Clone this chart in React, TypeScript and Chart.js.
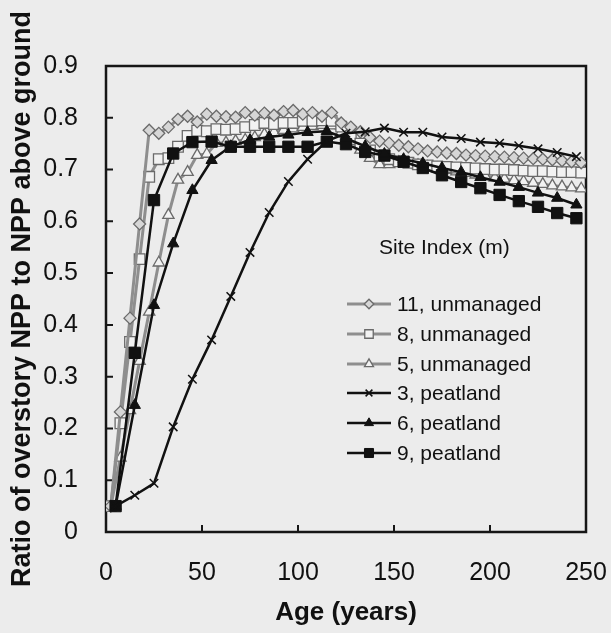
import React, { useEffect, useRef } from 'react';
import { Chart, registerables } from 'chart.js';
import { drawPoint } from 'chart.js/helpers';

Chart.register(...registerables);

// Ages (years) of the 5-year (unmanaged) and 10-year (peatland) series
const unmanagedAges = [
  2.5, 7.5, 12.5, 17.5, 22.5, 27.5, 32.5, 37.5, 42.5, 47.5,
  52.5, 57.5, 62.5, 67.5, 72.5, 77.5, 82.5, 87.5, 92.5, 97.5,
  102.5, 107.5, 112.5, 117.5, 122.5, 127.5, 132.5, 137.5, 142.5, 147.5,
  152.5, 157.5, 162.5, 167.5, 172.5, 177.5, 182.5, 187.5, 192.5, 197.5,
  202.5, 207.5, 212.5, 217.5, 222.5, 227.5, 232.5, 237.5, 242.5, 247.5,
];
const peatlandAges = [
  5, 15, 25, 35, 45, 55, 65, 75, 85, 95, 105, 115, 125,
  135, 145, 155, 165, 175, 185, 195, 205, 215, 225, 235, 245,
];

const si11Unmanaged = [
  0.05, 0.232, 0.413, 0.595, 0.776, 0.77, 0.782, 0.797, 0.803, 0.792,
  0.807, 0.803, 0.802, 0.801, 0.81, 0.805, 0.809, 0.805, 0.812, 0.814,
  0.807, 0.81, 0.803, 0.81, 0.79, 0.782, 0.773, 0.762, 0.755, 0.751,
  0.747, 0.744, 0.74, 0.736, 0.734, 0.732, 0.731, 0.728, 0.727, 0.726,
  0.725, 0.724, 0.723, 0.722, 0.721, 0.72, 0.719, 0.717, 0.715, 0.713,
];
const si8Unmanaged = [
  0.05, 0.21, 0.367, 0.527, 0.686, 0.72, 0.722, 0.744, 0.765, 0.775,
  0.774, 0.778, 0.777, 0.778, 0.782, 0.786, 0.79, 0.788, 0.79, 0.79,
  0.794, 0.794, 0.795, 0.794, 0.783, 0.765, 0.75, 0.737, 0.727, 0.72,
  0.716, 0.713, 0.71, 0.708, 0.706, 0.705, 0.704, 0.703, 0.702, 0.701,
  0.7, 0.7, 0.699, 0.698, 0.697, 0.697, 0.696, 0.695, 0.695, 0.694,
];
const si5Unmanaged = [
  0.05, 0.143, 0.235, 0.33, 0.425, 0.52, 0.612, 0.68, 0.695, 0.728,
  0.73, 0.751, 0.752, 0.755, 0.757, 0.762, 0.768, 0.772, 0.776, 0.779,
  0.782, 0.784, 0.786, 0.785, 0.772, 0.755, 0.738, 0.722, 0.71, 0.71,
  0.714, 0.712, 0.708, 0.705, 0.702, 0.699, 0.696, 0.693, 0.69, 0.687,
  0.684, 0.682, 0.679, 0.677, 0.674, 0.672, 0.669, 0.667, 0.665, 0.663,
];
const si3Peatland = [
  0.05, 0.071, 0.094, 0.203, 0.295, 0.371, 0.455, 0.54, 0.617, 0.677,
  0.72, 0.755, 0.77, 0.773, 0.78, 0.772, 0.772, 0.763, 0.76, 0.753,
  0.751, 0.746, 0.74, 0.733, 0.725,
];
const si6Peatland = [
  0.05, 0.245, 0.438, 0.557, 0.66, 0.718, 0.745, 0.757, 0.763, 0.767,
  0.772, 0.774, 0.76, 0.745, 0.73, 0.72, 0.712, 0.703, 0.695, 0.685,
  0.676, 0.666, 0.655, 0.645, 0.632,
];
const si9Peatland = [
  0.05, 0.346, 0.641, 0.731, 0.753, 0.754, 0.744, 0.744, 0.744, 0.744,
  0.744, 0.754, 0.749, 0.734, 0.727, 0.715, 0.703, 0.689, 0.676, 0.664,
  0.651, 0.639, 0.628, 0.616, 0.606,
];

const seriesLabels = [
  '11, unmanaged', '8, unmanaged', '5, unmanaged',
  '3, peatland', '6, peatland', '9, peatland',
];
const legendTitle = 'Site Index (m)';
const xTicks = [0, 50, 100, 150, 200, 250];
const yTicks = [0, 0.1, 0.2, 0.3, 0.4, 0.5, 0.6, 0.7, 0.8, 0.9];

const FONT = "'Liberation Sans', Arial, sans-serif";

function pts(xs: number[], ys: number[]) {
  return xs.map((x, i) => ({ x, y: ys[i] }));
}

const bgPlugin = {
  id: 'bgPlugin',
  beforeDraw(chart: any) {
    const { ctx, width, height } = chart;
    ctx.save();
    ctx.fillStyle = '#ececec';
    ctx.fillRect(0, 0, width, height);
    ctx.restore();
  },
  beforeDatasetsDraw(chart: any) {
    const { ctx, chartArea: a, scales } = chart;
    ctx.save();
    ctx.strokeStyle = '#161616';
    ctx.lineWidth = 2.5;
    ctx.strokeRect(a.left, a.top, a.right - a.left, a.bottom - a.top);
    ctx.lineWidth = 2;
    ctx.beginPath();
    xTicks.forEach((v) => {
      const px = scales.x.getPixelForValue(v);
      ctx.moveTo(px, a.bottom);
      ctx.lineTo(px, a.bottom - 7);
    });
    yTicks.forEach((v) => {
      const py = scales.y.getPixelForValue(v);
      ctx.moveTo(a.left, py);
      ctx.lineTo(a.left + 7, py);
    });
    ctx.stroke();
    ctx.restore();
  },
};

const legendPlugin = {
  id: 'insideLegend',
  afterDatasetsDraw(chart: any) {
    const { ctx } = chart;
    ctx.save();
    ctx.fillStyle = '#111';
    ctx.textBaseline = 'middle';
    ctx.textAlign = 'left';
    ctx.font = `21px ${FONT}`;
    ctx.fillText(legendTitle, 379, 248);
    const rows = [304, 334, 364, 393, 423, 453];
    chart.data.datasets.forEach((ds: any, i: number) => {
      const y = rows[i];
      ctx.strokeStyle = ds.borderColor;
      ctx.lineWidth = ds.borderWidth;
      ctx.beginPath();
      ctx.moveTo(347, y);
      ctx.lineTo(391, y);
      ctx.stroke();
      ctx.fillStyle = ds.pointBackgroundColor;
      ctx.strokeStyle = ds.pointBorderColor;
      ctx.lineWidth = ds.pointBorderWidth;
      drawPoint(ctx, { pointStyle: ds.pointStyle, rotation: 0, radius: ds.pointRadius * 0.8, borderWidth: ds.pointBorderWidth }, 369, y);
      ctx.fillStyle = '#111';
      ctx.font = `21px ${FONT}`;
      ctx.fillText(ds.label, 397, y + 1);
    });
    ctx.restore();
  },
};

export default function App() {
  const ref = useRef<HTMLCanvasElement | null>(null);
  useEffect(() => {
    if (!ref.current) return;
    const gray = '#8e8e8e';
    const grayMark = '#6a6a6a';
    const chart = new Chart(ref.current, {
      type: 'line',
      data: {
        datasets: [
          {
            label: seriesLabels[0], data: pts(unmanagedAges, si11Unmanaged),
            borderColor: gray, borderWidth: 3, pointStyle: 'rectRot', pointRadius: 6,
            pointBackgroundColor: '#d6d6d6', pointBorderColor: grayMark, pointBorderWidth: 1.3, order: 2,
          },
          {
            label: seriesLabels[1], data: pts(unmanagedAges, si8Unmanaged),
            borderColor: gray, borderWidth: 3, pointStyle: 'rect', pointRadius: 7.5,
            pointBackgroundColor: '#f2f2f2', pointBorderColor: grayMark, pointBorderWidth: 1.3, order: 2,
          },
          {
            label: seriesLabels[2], data: pts(unmanagedAges, si5Unmanaged),
            borderColor: gray, borderWidth: 3, pointStyle: 'triangle', pointRadius: 6.5,
            pointBackgroundColor: '#f2f2f2', pointBorderColor: grayMark, pointBorderWidth: 1.3, order: 2,
          },
          {
            label: seriesLabels[3], data: pts(peatlandAges, si3Peatland),
            borderColor: '#111', borderWidth: 2.5, pointStyle: 'crossRot', pointRadius: 6,
            pointBackgroundColor: '#111', pointBorderColor: '#111', pointBorderWidth: 1.5, order: 1,
          },
          {
            label: seriesLabels[4], data: pts(peatlandAges, si6Peatland),
            borderColor: '#111', borderWidth: 2.5, pointStyle: 'triangle', pointRadius: 6.5,
            pointBackgroundColor: '#111', pointBorderColor: '#111', pointBorderWidth: 1, order: 1,
          },
          {
            label: seriesLabels[5], data: pts(peatlandAges, si9Peatland),
            borderColor: '#111', borderWidth: 2.5, pointStyle: 'rect', pointRadius: 8,
            pointBackgroundColor: '#111', pointBorderColor: '#111', pointBorderWidth: 1, order: 1,
          },
        ],
      },
      options: {
        responsive: true,
        maintainAspectRatio: false,
        animation: false,
        layout: { padding: { top: 66, right: 25, bottom: 0, left: 0 } },
        plugins: { legend: { display: false }, tooltip: { enabled: false } },
        elements: { line: { tension: 0 } },
        scales: {
          x: {
            type: 'linear', min: 0, max: 250,
            afterFit: (s: any) => { s.height = 101; s.paddingLeft = 0; s.paddingRight = 0; },
            afterBuildTicks: (s: any) => { s.ticks = xTicks.map((v) => ({ value: v })); },
            grid: { display: false }, border: { display: false },
            ticks: { font: { family: FONT, size: 25 }, color: '#111', padding: 18, maxRotation: 0 },
            title: { display: true, text: 'Age (years)', font: { family: FONT, size: 26, weight: 'bold' }, color: '#111', padding: { top: 0, bottom: 5 } },
          },
          y: {
            type: 'linear', min: 0, max: 0.9,
            afterFit: (s: any) => { s.width = 106; s.paddingTop = 0; s.paddingBottom = 0; },
            afterBuildTicks: (s: any) => { s.ticks = yTicks.map((v) => ({ value: v })); },
            grid: { display: false }, border: { display: false },
            ticks: {
              font: { family: FONT, size: 25 }, color: '#111', padding: 20,
              callback: (v: any) => (Number(v) === 0 ? '0' : Number(v).toFixed(1)),
            },
            title: { display: true, text: 'Ratio of overstory NPP to NPP above ground', font: { family: FONT, size: 27, weight: 'bold' }, color: '#111', padding: { top: 6, bottom: 0 } },
          },
        },
      },
      plugins: [bgPlugin, legendPlugin],
    });
    return () => chart.destroy();
  }, []);
  return (
    <div style={{ position: 'fixed', left: 0, top: 0, width: 611, height: 633 }}>
      <canvas ref={ref} />
    </div>
  );
}
